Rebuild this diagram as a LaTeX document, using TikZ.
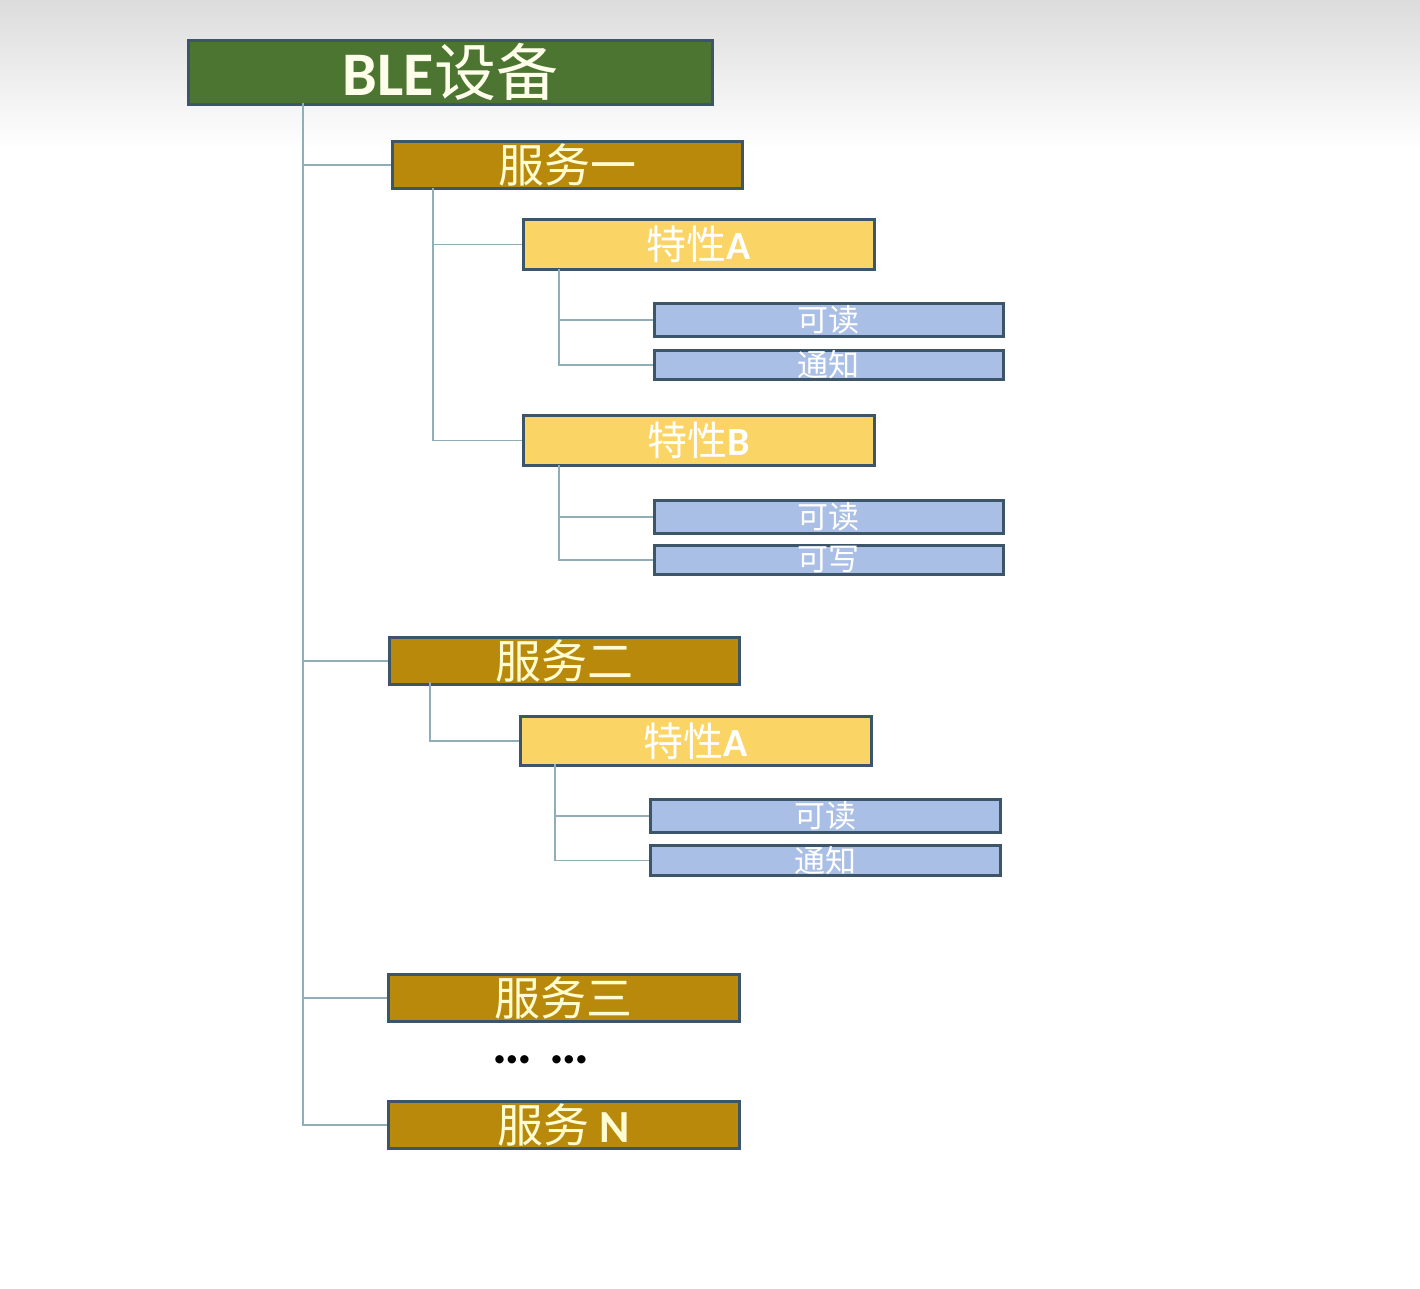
\documentclass[tikz,border=0pt]{standalone}
\usepackage{fontspec}
\setmainfont{Carlito}
\newfontfamily\cjk{Noto Sans CJK SC}
\definecolor{bggray}{HTML}{DCDCDC}
\definecolor{blegreen}{HTML}{4B7530}
\definecolor{svcgold}{HTML}{B8890A}
\definecolor{chyellow}{HTML}{FAD464}
\definecolor{propblue}{HTML}{A9BFE5}
\definecolor{edge}{HTML}{3D5568}
\definecolor{conncol}{HTML}{8FAEB8}
\definecolor{cream}{HTML}{FFFCD2}
\tikzset{
  x=1pt,y=-1pt,
  boxbase/.style={draw=edge,line width=2.8pt,inner sep=0pt,anchor=north west},
  blebox/.style={boxbase,fill=blegreen,text=white!92!yellow,minimum width=524pt,minimum height=64pt,font=\fontsize{62}{62}\selectfont\bfseries},
  svcbox/.style={boxbase,fill=svcgold,text=cream,minimum width=350pt,minimum height=47pt,font=\fontsize{46}{46}\selectfont},
  chbox/.style={boxbase,fill=chyellow,text=white,minimum width=351pt,minimum height=50pt,font=\fontsize{40}{40}\selectfont\bfseries},
  propbox/.style={boxbase,fill=propblue,text=white,minimum width=349pt,minimum height=33pt,font=\fontsize{31}{31}\selectfont},
  conn/.style={draw=conncol,line width=1.3pt},
}
\begin{document}
\begin{tikzpicture}
\useasboundingbox (0,0) rectangle (1420,1288);
\fill[white] (0,0) rectangle (1420,1288);
\shade[top color=bggray,bottom color=white] (0,0) rectangle (1420,150);

% connectors
\coordinate (t0) at (303,103);
\coordinate (t1) at (433,188);
\coordinate (t2) at (559,269);
\coordinate (t3) at (559,465);
\coordinate (t4) at (430,682);
\coordinate (t5) at (555,764);

% nodes
\node[blebox] (ble) at (187,39) {BLE{\cjk\mdseries 设备}};
\node[svcbox] (s1) at (391,140) {\cjk 服务一};
\node[chbox] (c1a) at (522,218) {{\cjk\mdseries 特性}A};
\node[propbox] (p1) at (653,302) {\cjk 可读};
\node[propbox,minimum height=29pt] (p2) at (653,349) {\cjk 通知};
\node[chbox] (c1b) at (522,414) {{\cjk\mdseries 特性}B};
\node[propbox] (p3) at (653,499) {\cjk 可读};
\node[propbox,minimum height=29pt] (p4) at (653,544) {\cjk 可写};
\node[svcbox] (s2) at (388,636) {\cjk 服务二};
\node[chbox,minimum height=49pt] (c2a) at (519,715) {{\cjk\mdseries 特性}A};
\node[propbox,minimum width=350pt] (p5) at (649,798) {\cjk 可读};
\node[propbox,minimum width=350pt,minimum height=30pt] (p6) at (649,844) {\cjk 通知};
\node[svcbox,minimum width=351pt] (s3) at (387,973) {\cjk 服务三};
\node[font=\fontsize{56}{56}\selectfont\bfseries,inner sep=0pt] (dots) at (541,1060) {…\hspace{18pt}…};
\node[svcbox,minimum width=351pt] (sN) at (387,1100) {{\cjk 服务} \bfseries N};

\draw[conn] (t0) |- (sN.west);
\foreach \n in {s1,s2,s3} \draw[conn] (t0 |- \n.west) -- (\n.west);
\draw[conn] (t1) |- (c1b.west);
\draw[conn] (t1 |- c1a.west) -- (c1a.west);
\draw[conn] (t2) |- (p2.west);
\draw[conn] (t2 |- p1.west) -- (p1.west);
\draw[conn] (t3) |- (p4.west);
\draw[conn] (t3 |- p3.west) -- (p3.west);
\draw[conn] (t4) |- (c2a.west);
\draw[conn] (t5) |- (p6.west);
\draw[conn] (t5 |- p5.west) -- (p5.west);
\end{tikzpicture}
\end{document}
